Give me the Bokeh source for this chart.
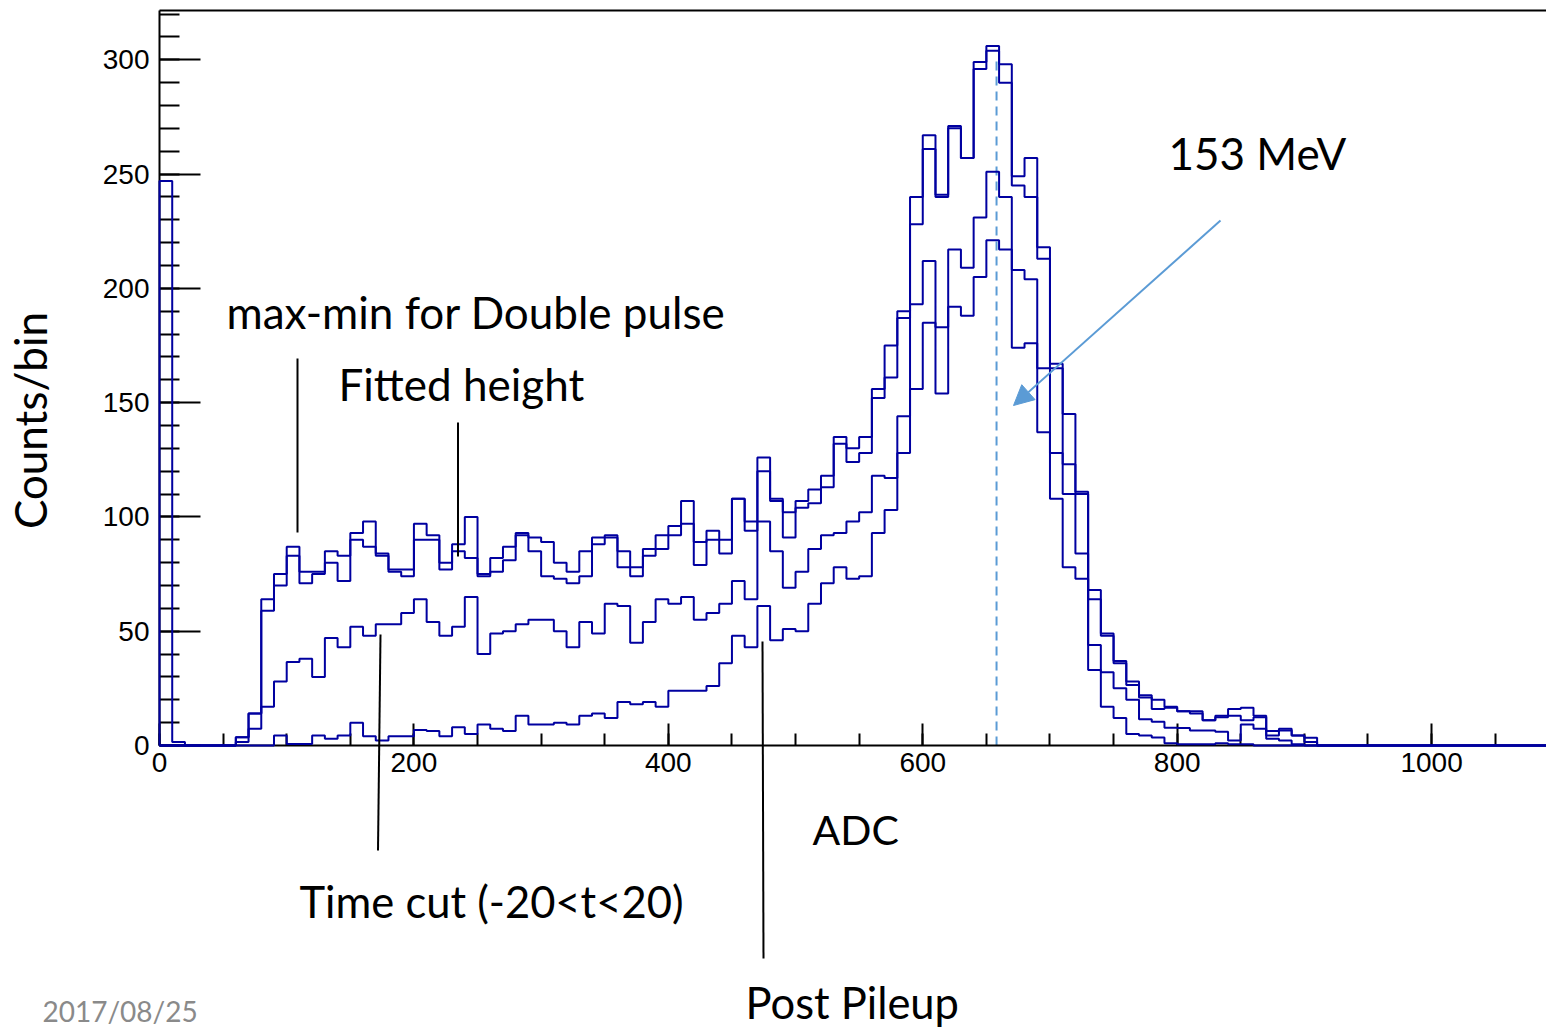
import numpy as np
from bokeh.plotting import figure
from bokeh.models import (Range1d, LinearAxis, SingleIntervalTicker, FixedTicker,
                          Label, Arrow, NormalHead)
from bokeh.embed import file_html
from bokeh.resources import INLINE

# ---------------- data (counts per 10-ADC bin, bins starting at 0) ----------------
bin_width = 10
n_bins = 110

max_min_double_pulse = [
    247, 1.5, 0, 0, 0, 0, 3.6, 14, 64, 75,
    87, 76, 76, 85, 83, 93, 98, 84, 77, 77,
    97, 92, 80, 88, 100, 75, 82, 87, 93, 91,
    89, 80, 76, 85, 91, 92, 85, 78, 86, 92,
    96, 107, 89, 94, 90, 108, 98, 126, 108, 102,
    107, 112, 118, 135, 130, 135, 156, 175, 190, 240,
    267, 241, 271, 257, 299, 306, 298, 249, 257, 218,
    167, 145, 111, 68, 49, 37, 28, 22, 20, 17,
    15, 15, 11, 13, 16, 16.5, 13, 6.3, 7.3, 4.4, 3.4,
]
fitted_height = [
    0, 0, 0, 0, 0, 0, 3.6, 14, 59, 70,
    83, 71, 75, 80, 72, 90, 87, 83, 76, 74,
    90, 90, 77, 85, 82, 74, 76, 81, 92, 85,
    74, 73, 71, 74, 88, 91, 78, 74, 83, 86,
    92, 97, 79, 90, 84, 108, 94, 120, 107, 91,
    104, 106, 113, 132, 124, 128, 152, 161, 187, 228,
    261, 240, 270, 257, 296, 304, 290, 245, 240, 213,
    165, 123, 110, 64, 48, 36, 26.5, 21, 16, 16.5,
    15, 14, 11, 12.4, 13, 11, 12.4, 4.4, 6.6, 4.4, 1.5,
]
time_cut = [
    0, 0, 0, 0, 0, 0, 1.5, 7.3, 17, 28,
    36.5, 38, 30, 47, 43, 52, 48, 53, 53, 58,
    64, 54, 48, 52, 65, 40, 49, 50, 53, 55,
    55, 50, 43, 54, 49, 62, 61, 45, 54, 64,
    62, 65, 55, 58, 62, 72, 64, 98, 85, 69,
    76, 86, 92, 93, 98, 102, 118, 117, 144, 193,
    212, 183, 217, 209, 231, 251, 240, 208, 204, 165,
    128, 110, 84, 44, 32, 25, 20, 11.5, 10.4, 7.8,
    7.7, 6.6, 6.6, 6, 2.2, 9.2, 7.3, 2.9, 2.2, 0.5, 0,
]
post_pileup = [
    0, 0, 0, 0, 0, 0, 0, 0, 0, 4.4,
    0.7, 0.7, 4.4, 2.9, 4.4, 10, 4, 2.2, 4, 4,
    6.8, 6.3, 4, 8, 5, 9.2, 7.3, 6.3, 13, 9.2,
    9.2, 10, 9.2, 13, 14, 12, 19, 18, 19, 17,
    24, 24, 24, 26, 36, 48, 43, 61, 46, 51,
    50, 62, 71, 78, 73, 74, 93, 103, 128, 156,
    185, 154, 192, 188, 205, 221, 217, 174, 176, 137,
    108, 78, 73, 33, 17, 12, 5, 4.4, 3.5, 1,
    0.5, 0.5, 0.5, 1, 0.5, 0.5, 0, 0, 0, 0, 0,
]
peak_adc = 658          # dashed marker position (153 MeV)
peak_line_top = 301

x_tick_interval = 200
y_tick_interval = 50

# ---------------- geometry (frame = whole canvas; axes at fixed locations) ----------------
W, H = 1546, 1028
X0_PX, Y0_PX, TOP_PX = 159, 745, 10     # pixel position of x=0, y=0 and the top frame line
SX, SY = 1.2721, 2.2857                 # px per data unit

x_lo, x_hi = -X0_PX / SX, (W - X0_PX) / SX
y_lo, y_hi = (Y0_PX - H) / SY, Y0_PX / SY
y_top = (Y0_PX - TOP_PX) / SY

def to_data(px, py):
    return (px - X0_PX) / SX, (Y0_PX - py) / SY

p = figure(width=W, height=H, output_backend="svg", toolbar_location=None,
           x_range=Range1d(x_lo, x_hi), y_range=Range1d(y_lo, y_hi),
           min_border_left=0, min_border_right=0, min_border_top=0,
           min_border_bottom=0)
p.title.visible = False
p.outline_line_color = None
p.grid.visible = False
p.background_fill_color = "white"
p.border_fill_color = "white"

xa = p.xaxis[0]
xa.ticker = SingleIntervalTicker(interval=x_tick_interval, num_minor_ticks=4)
xa.fixed_location = 0
xa.bounds = (0, x_hi)
ya = p.yaxis[0]
ya.ticker = SingleIntervalTicker(interval=y_tick_interval, num_minor_ticks=5)
ya.fixed_location = 0
ya.bounds = (0, y_top)
for ax in (xa, ya):
    ax.axis_line_width = 2
    ax.axis_line_color = "black"
    ax.major_tick_out = 0
    ax.minor_tick_out = 0
    ax.major_tick_line_width = 2
    ax.minor_tick_line_width = 2
    ax.major_tick_line_color = "black"
    ax.minor_tick_line_color = "black"
    ax.major_label_text_font = "Liberation Sans"
    ax.major_label_text_font_size = "28px"
    ax.major_label_text_color = "black"
xa.major_tick_in = 22
xa.minor_tick_in = 12
xa.major_label_standoff = 7
ya.major_tick_in = 41
ya.minor_tick_in = 20
ya.major_label_standoff = 10

top = LinearAxis(ticker=FixedTicker(ticks=[]), fixed_location=y_top, bounds=(0, x_hi),
                 axis_line_width=2, axis_line_color="black",
                 major_label_text_font_size="0px",
                 major_tick_in=0, major_tick_out=0, minor_tick_in=0, minor_tick_out=0)
p.add_layout(top, "above")

# ---------------- histograms ----------------
hist_color = "#0000a0"
edges = np.arange(n_bins + 1) * bin_width

def step_xy(vals):
    v = np.zeros(n_bins)
    v[:len(vals)] = vals
    x = np.concatenate([[0], edges])
    y = np.concatenate([[0], v, [0]])
    return x, y

for series in (post_pileup, time_cut, fitted_height, max_min_double_pulse):
    x, y = step_xy(series)
    p.step(x, y, mode="after", line_color=hist_color, line_width=2, level="annotation")

# dashed 153 MeV marker
p.line([peak_adc, peak_adc], [0, peak_line_top], line_color="#5b9bd5",
       line_width=2, line_dash="9 6")

# arrow to the marker
sx, sy = to_data(1220, 220)
ex, ey = to_data(1013, 405)
p.add_layout(Arrow(x_start=sx, y_start=sy, x_end=ex, y_end=ey,
                   line_color="#5b9bd5", line_width=2,
                   end=NormalHead(size=20, fill_color="#5b9bd5", line_color="#5b9bd5")))

# black pointer lines
for (x0, y0, x1, y1) in [(297, 358, 297, 532), (457.5, 422, 457.5, 556),
                         (380, 634, 377.5, 850), (762, 641, 763, 958)]:
    a, b = to_data(x0, y0)
    c, d = to_data(x1, y1)
    p.add_layout(Arrow(x_start=a, y_start=b, x_end=c, y_end=d, end=None,
                       line_color="black", line_width=2))

# ---------------- texts ----------------
FONT = "Lato"

def add_label(text, px, py, size, color="black", align="left", angle=0.0):
    shift = 0.43 * size          # renderer draws the alphabetic baseline this much lower
    if angle:
        x, y = to_data(px - shift, py)
    else:
        x, y = to_data(px, py - shift)
    p.add_layout(Label(x=x, y=y, text=text, text_font=FONT, text_font_size=f"{size}px",
                       text_color=color, text_align=align, text_baseline="alphabetic",
                       angle=angle))

add_label("max-min for Double  pulse", 226, 330, 44)
add_label("Fitted height", 338, 402, 44)
add_label("Time cut (-20<t<20)", 299, 919, 43.5)
add_label("Post Pileup", 745, 1020, 43.5)
add_label("ADC", 812, 847, 41)
add_label("153 MeV", 1168, 171, 44)
add_label("Counts/bin", 48, 420, 44, align="center", angle=np.pi / 2)
add_label("2017/08/25", 42, 1023, 28, color="#8a8a8a")

open("out.html", "w").write(file_html(p, INLINE))
